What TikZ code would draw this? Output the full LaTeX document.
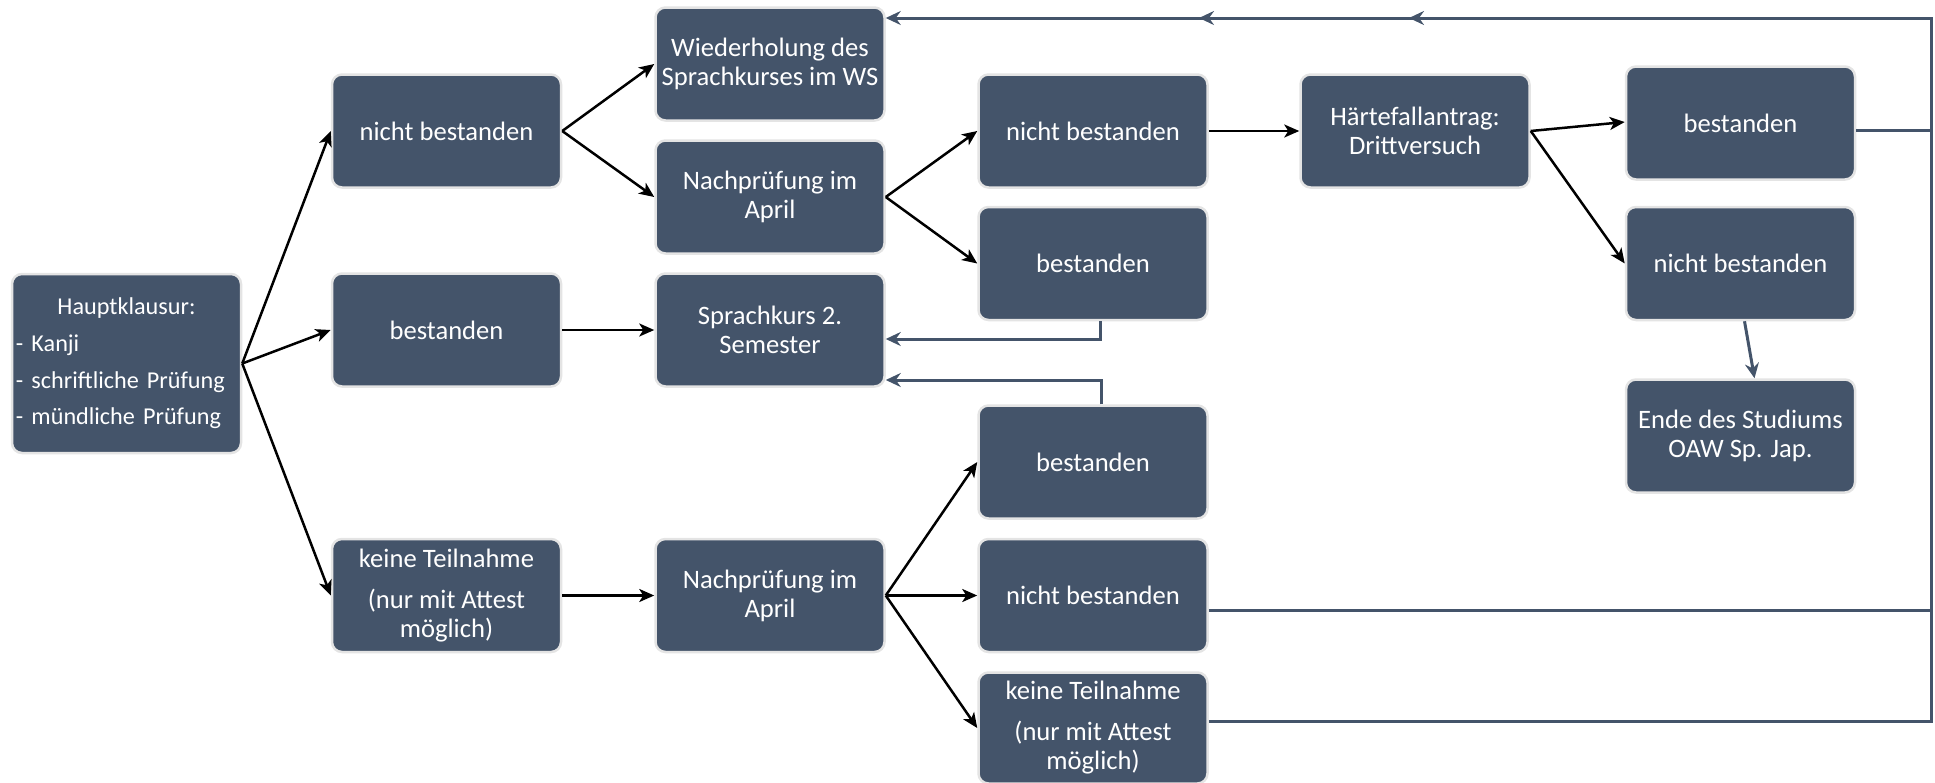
\documentclass[tikz,border=0pt]{standalone}
\usepackage{fontspec}
\setmainfont{Carlito}
\usetikzlibrary{arrows.meta}
\definecolor{boxblue}{HTML}{44546A}
\definecolor{boxrim}{HTML}{E4E4E4}
\begin{document}
\begin{tikzpicture}[x=1pt,y=-1pt,
  box/.style={draw=boxrim, line width=2.5pt, fill=boxblue, rounded corners=10pt, text=white,
    minimum width=229pt, minimum height=113pt, align=center, inner sep=2pt,
    font=\fontsize{26.6}{29}\selectfont},
  flow/.style={draw=black, line width=2.5pt, -{Stealth[length=15pt,width=13pt,inset=4pt]}},
  ret/.style={draw=boxblue, line width=3pt, -{Stealth[length=15pt,width=14pt,inset=5pt]}},
]
\useasboundingbox (0,0) rectangle (1935,782);
% column 1
\node[box, minimum height=179pt, text width=221pt, align=left, font=\fontsize{24.2}{36.6}\selectfont]
  (hk) at (126.5,363.5) {\makebox[221pt][c]{Hauptklausur:}\\- Kanji\\- schriftliche Prüfung\\- mündliche Prüfung};
% column 2
\node[box] (nb2) at (446.5,131) {nicht bestanden};
\node[box] (b2) at (446.5,330) {bestanden};
\node[box] (kt2) at (446.5,595.5) {keine Teilnahme\\[12pt](nur mit Attest\\möglich)};
% column 3
\node[box] (wh) at (770,64) {Wiederholung des\\Sprachkurses im WS};
\node[box] (np1) at (770,197) {Nachprüfung im\\April};
\node[box] (sk) at (770,330) {Sprachkurs 2.\\Semester};
\node[box] (np2) at (770,595.5) {Nachprüfung im\\April};
% column 4
\node[box] (nb4) at (1093,131) {nicht bestanden};
\node[box] (b4) at (1093,263.5) {bestanden};
\node[box] (b4b) at (1093,462) {bestanden};
\node[box] (nb4b) at (1093,595.5) {nicht bestanden};
\node[box, minimum height=111pt] (kt4) at (1093,728) {keine Teilnahme\\[12pt](nur mit Attest\\möglich)};
% column 5 / 6
\node[box] (hf) at (1415,131) {Härtefallantrag:\\Drittversuch};
\node[box] (b6) at (1740.5,123) {bestanden};
\node[box] (nb6) at (1740.5,263.5) {nicht bestanden};
\node[box] (ende) at (1740.5,436) {Ende des Studiums\\OAW Sp. Jap.};
% forward arrows
\draw[flow] (hk.east) -- (nb2.west);
\draw[flow] (hk.east) -- (b2.west);
\draw[flow] (hk.east) -- (kt2.west);
\draw[flow] (nb2.east) -- (wh.west);
\draw[flow] (nb2.east) -- (np1.west);
\draw[flow] (b2.east) -- (sk.west);
\draw[flow] (kt2.east) -- (np2.west);
\draw[flow] (np1.east) -- (nb4.west);
\draw[flow] (np1.east) -- (b4.west);
\draw[flow] (np2.east) -- (b4b.west);
\draw[flow] (np2.east) -- (nb4b.west);
\draw[flow] (np2.east) -- (kt4.west);
\draw[flow] (nb4.east) -- (hf.west);
\draw[flow] (hf.east) -- ([yshift=1pt]b6.west);
\draw[flow] (hf.east) -- (nb6.west);
% return connectors
\coordinate (rx) at (1931,18);
\coordinate (m1) at (1409,18);
\coordinate (m2) at (1199,18);
\draw[ret] ([yshift=-7pt]b6.east) -| (rx) -- (wh.east |- rx);
\draw[ret] ([yshift=-15pt]nb4b.east) -| (rx) -- (m1);
\draw[ret] ([yshift=7pt]kt4.east) -| (rx) -- (m2);
\draw[ret] ([xshift=7pt]b4.south) |- ([yshift=-9pt]sk.east);
\draw[ret] ([xshift=8pt]b4b.north) |- ([yshift=-50pt]sk.east);
\draw[ret] ([xshift=4pt]nb6.south) -- ([xshift=14pt]ende.north);
\end{tikzpicture}
\end{document}
